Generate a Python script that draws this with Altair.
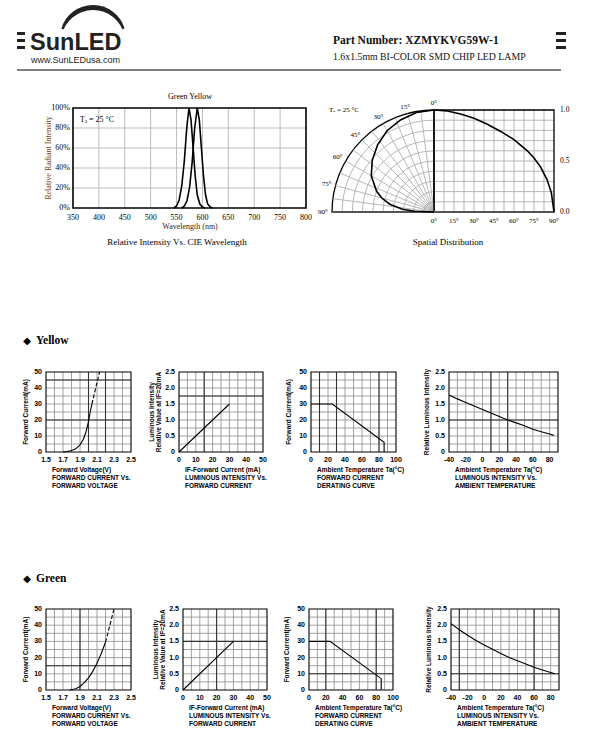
import altair as alt
import pandas as pd

# ---------------- header text ----------------
brand = "SunLED"
website = "www.SunLEDusa.com"
part_number = "Part Number: XZMYKVG59W-1"
subtitle = "1.6x1.5mm BI-COLOR SMD CHIP LED LAMP"

# ---------------- spectrum ----------------
spec_green_wl = [545, 550, 555, 560, 565, 570, 574, 578, 582, 586, 590, 595, 600, 605]
spec_green_rel = [0.0, 0.02, 0.08, 0.22, 0.47, 0.82, 1.0, 0.88, 0.6, 0.32, 0.13, 0.04, 0.01, 0.0]
spec_yellow_wl = [560, 565, 570, 575, 580, 585, 590, 594, 598, 602, 606, 610, 615, 620]
spec_yellow_rel = [0.0, 0.02, 0.07, 0.2, 0.45, 0.8, 1.0, 0.88, 0.6, 0.32, 0.13, 0.04, 0.01, 0.0]
spec_x_ticks = [350, 400, 450, 500, 550, 600, 650, 700, 750, 800]
spec_y_ticks = [0, 0.2, 0.4, 0.6, 0.8, 1.0]
spec_y_labels = ["0%", "20%", "40%", "60%", "80%", "100%"]

# ---------------- spatial distribution ----------------
spatial_angle = [0, 10, 20, 30, 40, 50, 60, 70, 75, 80, 85, 88, 90]
spatial_rel = [1.0, 0.99, 0.96, 0.92, 0.86, 0.79, 0.71, 0.6, 0.53, 0.44, 0.31, 0.19, 0.0]
spatial_ticks = [0, 15, 30, 45, 60, 75, 90]
spatial_tick_labels = ["0°", "15°", "30°", "45°", "60°", "75°", "90°"]
spatial_rings = [0.1, 0.2, 0.3, 0.4, 0.5, 0.6, 0.7, 0.8, 0.9]
spatial_spokes = [7.5, 15, 22.5, 30, 37.5, 45, 52.5, 60, 67.5, 75, 82.5]
spatial_vgrid = [7.5, 15, 22.5, 30, 37.5, 45, 52.5, 60, 67.5, 75, 82.5]
spatial_hgrid = [0.1, 0.2, 0.3, 0.4, 0.5, 0.6, 0.7, 0.8, 0.9]
spatial_r_ticks = [0.0, 0.5, 1.0]
spatial_r_labels = ["0.0", "0.5", "1.0"]

# ---------------- small charts: ticks ----------------
iv_x_ticks = [1.5, 1.7, 1.9, 2.1, 2.3, 2.5]
iv_x_labels = ["1.5", "1.7", "1.9", "2.1", "2.3", "2.5"]
iv_x_grid = [1.6, 1.7, 1.8, 1.9, 2.0, 2.1, 2.2, 2.3, 2.4]
ma_ticks = [0, 10, 20, 30, 40, 50]
ma_labels = ["0", "10", "20", "30", "40", "50"]
ma_grid = [5, 10, 15, 20, 25, 30, 35, 40, 45]
if_x_grid = [5, 10, 15, 20, 25, 30, 35, 40, 45]
rel_ticks = [0, 0.5, 1.0, 1.5, 2.0, 2.5]
rel_labels = ["0", "0.5", "1.0", "1.5", "2.0", "2.5"]
rel_grid = [0.25, 0.5, 0.75, 1.0, 1.25, 1.5, 1.75, 2.0, 2.25]
ta_ticks = [0, 20, 40, 60, 80, 100]
ta_labels = ["0", "20", "40", "60", "80", "100"]
ta_grid = [10, 20, 30, 40, 50, 60, 70, 80, 90]
tt_ticks = [-40, -20, 0, 20, 40, 60, 80]
tt_labels = ["-40", "-20", "0", "20", "40", "60", "80"]
tt_grid = [-30, -20, -10, 0, 10, 20, 30, 40, 50, 60, 70, 80]

# ---------------- yellow series ----------------
y_iv_v = [1.70, 1.75, 1.80, 1.85, 1.90, 1.94, 1.97, 2.00, 2.02, 2.04]
y_iv_i = [0, 0.3, 0.9, 2.0, 4.5, 8.0, 12.5, 19.0, 25.0, 30.0]
y_iv_dash_v = [2.04, 2.13]
y_iv_dash_i = [30, 50]
y_lum_if = [0, 30]
y_lum_rel = [0, 1.5]
y_der_ta = [0, 25, 86, 86]
y_der_if = [30, 30, 6, 0]
y_temp_ta = [-40, -30, -20, -10, 0, 10, 20, 30, 40, 50, 60, 70, 80, 85]
y_temp_rel = [1.78, 1.66, 1.55, 1.44, 1.33, 1.22, 1.11, 1.0, 0.91, 0.82, 0.71, 0.63, 0.56, 0.52]

# ---------------- green series ----------------
g_iv_v = [1.78, 1.85, 1.90, 1.95, 2.00, 2.05, 2.10, 2.15, 2.20]
g_iv_i = [0, 0.8, 2.2, 4.5, 7.5, 11.5, 16.5, 22.5, 29.5]
g_iv_dash_v = [2.20, 2.30]
g_iv_dash_i = [29.5, 50]
g_lum_if = [0, 30]
g_lum_rel = [0, 1.5]
g_der_ta = [0, 25, 86, 86]
g_der_if = [30, 30, 7, 0]
g_temp_ta = [-40, -30, -20, -10, 0, 10, 20, 30, 40, 50, 60, 70, 80, 85]
g_temp_rel = [2.05, 1.86, 1.69, 1.53, 1.39, 1.26, 1.13, 1.0, 0.9, 0.8, 0.7, 0.62, 0.54, 0.5]

SERIF = "Liberation Serif"
SANS = "Liberation Sans"
GRID = "#8c8c8c"
ONE = pd.DataFrame({"a": [0]})

layers = []


def lin(dom, rng):
    return alt.Scale(type="linear", domain=dom, range=rng, zero=False, nice=False)


def vlines(values, xs, ys, ydom, color, width):
    df = pd.DataFrame({"v": values, "lo": ydom[0], "hi": ydom[1]})
    return alt.Chart(df).mark_rule(color=color, strokeWidth=width).encode(
        x=alt.X("v:Q", scale=xs, axis=None),
        y=alt.Y("lo:Q", scale=ys, axis=None),
        y2="hi:Q")


def hlines(values, xs, ys, xdom, color, width):
    df = pd.DataFrame({"v": values, "lo": xdom[0], "hi": xdom[1]})
    return alt.Chart(df).mark_rule(color=color, strokeWidth=width).encode(
        y=alt.Y("v:Q", scale=ys, axis=None),
        x=alt.X("lo:Q", scale=xs, axis=None),
        x2="hi:Q")


def frame(xs, ys, xdom, ydom, width=1.2):
    df = pd.DataFrame({"x0": [xdom[0]], "x1": [xdom[1]], "y0": [ydom[0]], "y1": [ydom[1]]})
    return alt.Chart(df).mark_rect(fillOpacity=0, stroke="black", strokeWidth=width).encode(
        x=alt.X("x0:Q", scale=xs, axis=None), x2="x1:Q",
        y=alt.Y("y0:Q", scale=ys, axis=None), y2="y1:Q")


def line(xv, yv, xs, ys, width=1.2, dash=None, color="black"):
    df = pd.DataFrame({"x": xv, "y": yv, "o": list(range(len(xv)))})
    m = dict(color=color, strokeWidth=width)
    if dash:
        m["strokeDash"] = dash
    return alt.Chart(df).mark_line(**m).encode(
        x=alt.X("x:Q", scale=xs, axis=None), y=alt.Y("y:Q", scale=ys, axis=None), order="o:Q")


def xlabels(vals, texts, xs, ys, yval, dy, font, size, weight="normal", color="black"):
    df = pd.DataFrame({"v": vals, "t": texts, "y": yval})
    return alt.Chart(df).mark_text(font=font, fontSize=size, fontWeight=weight, baseline="top",
                                   align="center", dy=dy, color=color).encode(
        x=alt.X("v:Q", scale=xs, axis=None), y=alt.Y("y:Q", scale=ys, axis=None), text="t:N")


def ylabels(vals, texts, xs, ys, xval, dx, font, size, weight="normal", align="right", color="black"):
    df = pd.DataFrame({"v": vals, "t": texts, "x": xval})
    return alt.Chart(df).mark_text(font=font, fontSize=size, fontWeight=weight, baseline="middle",
                                   align=align, dx=dx, color=color).encode(
        y=alt.Y("v:Q", scale=ys, axis=None), x=alt.X("x:Q", scale=xs, axis=None), text="t:N")


def label(x, y, text, **kw):
    return alt.Chart(ONE).mark_text(text=text, **kw).encode(x=alt.value(x), y=alt.value(y))


# ================= header =================
for yb in (32, 39, 46):
    for xa, xb in ((17, 25), (556, 566)):
        layers.append(alt.Chart(ONE).mark_rect(color="#222").encode(
            x=alt.value(xa), x2=alt.value(xb), y=alt.value(yb), y2=alt.value(yb + 3)))
layers.append(alt.Chart(ONE).mark_arc(color="#222").encode(
    x=alt.value(93), y=alt.value(38), radius=alt.value(33), theta=alt.value(5.0), theta2=alt.value(7.56)))
layers.append(alt.Chart(ONE).mark_arc(color="white").encode(
    x=alt.value(93), y=alt.value(42), radius=alt.value(32), theta=alt.value(4.9), theta2=alt.value(7.66)))
layers.append(label(30, 50, brand, font=SANS, fontSize=23.5, fontWeight="bold", align="left",
                    baseline="alphabetic", color="#222"))
layers.append(label(31, 63, website, font=SANS, fontSize=9, align="left", baseline="alphabetic", color="#222"))
layers.append(label(333, 44, part_number, font=SERIF, fontSize=11.5, fontWeight="bold", align="left",
                    baseline="alphabetic", color="#111"))
layers.append(label(333, 60, subtitle, font=SERIF, fontSize=9.8, align="left", baseline="alphabetic",
                    color="#111"))
layers.append(alt.Chart(ONE).mark_rule(color="black", strokeWidth=1).encode(
    x=alt.value(17), x2=alt.value(561), y=alt.value(70)))

# ================= spectrum =================
sx0, sx1, sy0, sy1 = 73, 306, 108, 208
sxd, syd = [350, 800], [0, 1]
sxs, sys_ = lin(sxd, [sx0, sx1]), lin(syd, [sy1, sy0])
layers.append(vlines(spec_x_ticks[1:-1], sxs, sys_, syd, "#b5b5b5", 0.9))
layers.append(hlines(spec_y_ticks[1:-1], sxs, sys_, sxd, "#b5b5b5", 0.9))
layers.append(frame(sxs, sys_, sxd, syd, 1.6))
layers.append(line(spec_green_wl, spec_green_rel, sxs, sys_, 1.6))
layers.append(line(spec_yellow_wl, spec_yellow_rel, sxs, sys_, 1.6))
layers.append(xlabels(spec_x_ticks, [str(v) for v in spec_x_ticks], sxs, sys_, 0, 6, SERIF, 8))
layers.append(ylabels(spec_y_ticks, spec_y_labels, sxs, sys_, 350, -3, SERIF, 8))
layers.append(label(190, 97, "Green Yellow", font=SERIF, fontSize=8, align="center", baseline="middle"))
layers.append(label(190, 227, "Wavelength (nm)", font=SERIF, fontSize=8, align="center", baseline="middle",
                    color="#3a2315"))
layers.append(label(49, 158, "Relative Radiant Intensity", font=SERIF, fontSize=8, align="center",
                    baseline="middle", angle=270, color="#6b3f22"))
layers.append(label(80, 120, "Tₐ = 25 °C", font=SERIF, fontSize=8, align="left", baseline="middle"))
layers.append(label(177, 242, "Relative Intensity Vs. CIE Wavelength", font=SERIF, fontSize=9,
                    align="center", baseline="middle"))

# ================= spatial distribution =================
cx, cy, R = 434, 212, 102
pxs = lin([-1, 1], [cx - R, cx + R])
pys = lin([0, 1], [cy, cy - R])
rxs = lin([0, 90], [cx, cx + 120])
rys = lin([0, 1], [cy, cy - R])

for rv in spatial_rings + [1.0]:
    edge = rv == 1.0
    layers.append(alt.Chart(pd.DataFrame({"c0": [0.0], "c1": [0.0]})).mark_arc(
        fillOpacity=0, stroke="black" if edge else "#b0b0b0", strokeWidth=1.3 if edge else 0.9).encode(
        x=alt.X("c0:Q", scale=pxs, axis=None), y=alt.Y("c1:Q", scale=pys, axis=None),
        radius=alt.value(rv * R), theta=alt.value(4.712389), theta2=alt.value(6.283185)))
spoke_df = pd.DataFrame({"a": spatial_spokes, "c0": 0.0, "c1": 0.0})
layers.append(alt.Chart(spoke_df).transform_calculate(
    px="-sin(datum.a*PI/180)", py="cos(datum.a*PI/180)").mark_rule(color="#b0b0b0", strokeWidth=0.9).encode(
    x=alt.X("c0:Q", scale=pxs, axis=None), y=alt.Y("c1:Q", scale=pys, axis=None),
    x2="px:Q", y2="py:Q"))
layers.append(vlines(spatial_vgrid, rxs, rys, [0, 1], "#b0b0b0", 0.9))
layers.append(hlines(spatial_hgrid, rxs, rys, [0, 90], "#b0b0b0", 0.9))
layers.append(frame(rxs, rys, [0, 90], [0, 1], 1.3))
layers.append(hlines([0], pxs, pys, [-1, 0], "#555", 2))
layers.append(hlines([0], rxs, rys, [0, 90], "#555", 2))
sp_df = pd.DataFrame({"a": spatial_angle, "r": spatial_rel, "o": list(range(len(spatial_angle)))})
layers.append(alt.Chart(sp_df).transform_calculate(
    px="-datum.r*sin(datum.a*PI/180)", py="datum.r*cos(datum.a*PI/180)").mark_line(
    color="black", strokeWidth=1.6).encode(
    x=alt.X("px:Q", scale=pxs, axis=None), y=alt.Y("py:Q", scale=pys, axis=None), order="o:Q"))
layers.append(line(spatial_angle, spatial_rel, rxs, rys, 1.6))
lab_df = pd.DataFrame({"a": spatial_ticks, "t": spatial_tick_labels})
layers.append(alt.Chart(lab_df).transform_calculate(
    px="-1.09*sin(datum.a*PI/180)", py="1.07*cos(datum.a*PI/180)").mark_text(
    font=SERIF, fontSize=7, align="center", baseline="middle").encode(
    x=alt.X("px:Q", scale=pxs, axis=None), y=alt.Y("py:Q", scale=pys, axis=None), text="t:N"))
layers.append(xlabels(spatial_ticks, spatial_tick_labels, rxs, rys, 0, 5, SERIF, 7))
layers.append(ylabels(spatial_r_ticks, spatial_r_labels, rxs, rys, 90, 6, SERIF, 7.5, align="left"))
layers.append(label(329, 110, "Tₐ = 25 °C", font=SERIF, fontSize=7, align="left", baseline="middle"))
layers.append(label(448, 242, "Spatial Distribution", font=SERIF, fontSize=9, align="center",
                    baseline="middle"))


# ================= small charts =================
def small(box, xdom, ydom, xgrid, ygrid, xt, xl, yt, yl, series, ytitle, ytx, caption,
          dark_x=(), dark_y=()):
    x0, x1, y0, y1 = box
    xs, ys = lin(xdom, [x0, x1]), lin(ydom, [y1, y0])
    out = [vlines(xgrid, xs, ys, ydom, GRID, 0.8), hlines(ygrid, xs, ys, xdom, GRID, 0.8)]
    if dark_x:
        out.append(vlines(list(dark_x), xs, ys, ydom, "#333", 1.1))
    if dark_y:
        out.append(hlines(list(dark_y), xs, ys, xdom, "#333", 1.1))
    out.append(frame(xs, ys, xdom, ydom, 1.1))
    for xv, yv, dash in series:
        out.append(line(xv, yv, xs, ys, 1.1, dash))
    out.append(xlabels(xt, xl, xs, ys, ydom[0], 4, SANS, 7, "bold"))
    out.append(ylabels(yt, yl, xs, ys, xdom[0], -4, SANS, 7, "bold"))
    out.append(label(ytx, (y0 + y1) / 2, ytitle, font=SANS, fontSize=6.5, fontWeight="bold", angle=270,
                     align="center", baseline="middle", lineHeight=7))
    out.append(label(x0 + 6, y1 + 15, caption, font=SANS, fontSize=6.5, fontWeight="bold", align="left",
                     baseline="top", lineHeight=8))
    return out


def row(y0, y1, cols, data, darks):
    (iv_v, iv_i, ivd_v, ivd_i, lum_if, lum_rel, der_ta, der_if, tmp_ta, tmp_rel) = data
    c1, c2, c3, c4 = cols
    out = []
    out += small((c1[0], c1[1], y0, y1), [1.5, 2.5], [0, 50], iv_x_grid, ma_grid, iv_x_ticks, iv_x_labels,
                 ma_ticks, ma_labels, [(iv_v, iv_i, None), (ivd_v, ivd_i, [4, 2])],
                 "Forward Current(mA)", c1[0] - 20,
                 ["Forward Voltage(V)", "FORWARD CURRENT Vs.", "FORWARD VOLTAGE"], *darks[0])
    out += small((c2[0], c2[1], y0, y1), [0, 50], [0, 2.5], if_x_grid, rel_grid, ma_ticks, ma_labels,
                 rel_ticks, rel_labels, [(lum_if, lum_rel, None)],
                 ["Luminous Intensity", "Relative Value at IF=20mA"], c2[0] - 27,
                 ["IF-Forward Current (mA)", "LUMINOUS INTENSITY Vs.", "FORWARD CURRENT"], *darks[1])
    out += small((c3[0], c3[1], y0, y1), [0, 100], [0, 50], ta_grid, ma_grid, ta_ticks, ta_labels,
                 ma_ticks, ma_labels, [(der_ta, der_if, None)],
                 "Forward Current(mA)", c3[0] - 22,
                 ["Ambient Temperature Ta(°C)", "FORWARD CURRENT", "DERATING CURVE"], *darks[2])
    out += small((c4[0], c4[1], y0, y1), [-40, 90], [0, 2.5], tt_grid, rel_grid, tt_ticks, tt_labels,
                 rel_ticks, rel_labels, [(tmp_ta, tmp_rel, None)],
                 "Relative Luminous Intensity", c4[0] - 22,
                 ["Ambient Temperature Ta(°C)", "LUMINOUS INTENSITY Vs.", "AMBIENT TEMPERATURE"], *darks[3])
    return out


# Yellow section
layers.append(label(27, 341, "◆", font="DejaVu Sans", fontSize=10, align="center", baseline="middle"))
layers.append(label(36, 341, "Yellow", font=SERIF, fontSize=11.5, fontWeight="bold", align="left",
                    baseline="middle"))
layers += row(372, 452, [(46, 131), (179, 263), (311, 396), (449, 558)],
              (y_iv_v, y_iv_i, y_iv_dash_v, y_iv_dash_i, y_lum_if, y_lum_rel, y_der_ta, y_der_if,
               y_temp_ta, y_temp_rel),
              [((2.0, 2.2), (20, 45)), ((15,), (1.75,)), ((10, 30, 80), ()), ((10, 30), (1.0,))])

# Green section
layers.append(label(27, 579, "◆", font="DejaVu Sans", fontSize=10, align="center", baseline="middle"))
layers.append(label(36, 579, "Green", font=SERIF, fontSize=11.5, fontWeight="bold", align="left",
                    baseline="middle"))
layers += row(609, 690, [(46, 131), (183, 267), (309, 393), (451, 559)],
              (g_iv_v, g_iv_i, g_iv_dash_v, g_iv_dash_i, g_lum_if, g_lum_rel, g_der_ta, g_der_if,
               g_temp_ta, g_temp_rel),
              [((1.9,), (15,)), ((20,), (1.5,)), ((20, 80), (10,)), ((-30, 60), (0.5,))])

chart = alt.layer(*layers).resolve_scale(x="independent", y="independent").properties(
    width=601, height=746, autosize=alt.AutoSizeParams(type="none"), padding=0,
    background="white").configure_view(stroke=None)

chart.save("out.html", embed_options={"renderer": "svg", "actions": False})
